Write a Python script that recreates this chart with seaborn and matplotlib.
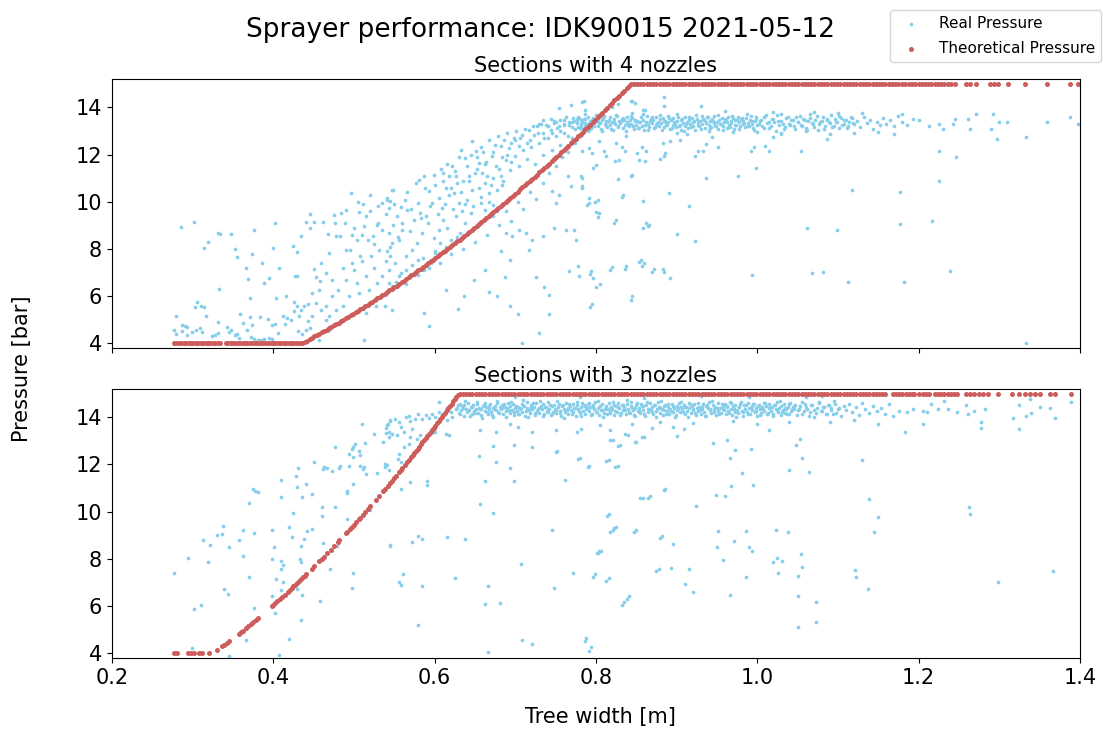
import pandas as pd
import matplotlib
matplotlib.use('Agg')
import matplotlib.pyplot as plt
import seaborn as sns

# values: (tree width [m], pressure [bar])
LOW_P = 4.0
HIGH_P = 15.0

# ---------------- sections with 4 nozzles ----------------
real4_left = [
    (0.286,8.93),(0.302,9.14),(0.319,8.31),(0.314,8.04),(0.331,8.68),(0.334,8.63),(0.347,8.63),(0.352,7.98),(0.355,7.64),(0.376,8.80),
    (0.402,9.08),(0.374,7.79),(0.366,7.19),(0.386,7.39),(0.400,8.04),(0.407,7.21),(0.395,6.75),(0.389,6.56),(0.369,6.73),(0.333,6.32),
    (0.371,5.94),(0.305,5.75),(0.303,5.54),(0.311,5.57),(0.314,5.54),(0.316,5.17),(0.280,5.17),(0.277,4.58),(0.279,4.41),(0.287,4.79),
    (0.290,4.72),(0.293,4.69),(0.287,4.51),(0.293,4.37),(0.299,4.49),(0.304,4.58),(0.309,4.65),(0.312,4.47),(0.324,4.30),(0.328,4.37),
    (0.331,4.44),(0.331,4.89),(0.343,4.69),(0.345,4.47),(0.348,4.58),(0.352,4.35),(0.355,4.38),(0.358,4.24),(0.359,5.24),(0.363,4.86),
    (0.371,5.12),(0.374,4.78),(0.372,4.27),(0.376,4.20),(0.381,4.16),(0.385,4.14),(0.388,4.17),(0.395,4.21),(0.399,4.17),(0.367,4.58),
    (0.384,5.12),(0.394,5.05),(0.398,4.76),(0.402,4.83),(0.404,5.94),(0.412,5.16),(0.416,5.99),(0.415,4.83),(0.406,4.42),(0.417,5.07),
    (0.422,5.00),(0.426,5.36),(0.429,5.57),(0.426,5.77),(0.432,5.14),(0.435,5.43),(0.438,5.57),(0.443,5.65),(0.431,4.52),(0.436,4.41),
    (0.441,4.58),(0.446,4.66),(0.424,8.14),(0.430,7.86),(0.427,6.84),(0.430,6.84),(0.435,8.53),(0.441,9.13),(0.446,9.47),(0.445,8.89),
    (0.451,9.13),(0.450,7.15),(0.453,6.81),(0.458,6.64),(0.457,6.26),(0.462,9.16),(0.468,8.65),(0.475,9.45),(0.476,9.08),(0.478,8.56),
    (0.483,8.53),(0.484,9.52),(0.490,9.66),(0.489,9.10),(0.496,10.37),(0.495,7.97),(0.498,8.59),(0.506,9.55),(0.511,9.90),(0.513,8.96),
    (0.518,8.39),(0.520,9.62),(0.524,8.56),(0.528,9.03),(0.530,9.83),(0.535,9.95),(0.541,10.09),(0.544,9.73),(0.547,10.51),
    (0.448,6.13),(0.453,5.71),(0.459,5.43),(0.465,5.57),(0.469,5.14),(0.473,5.99),(0.480,6.27),(0.486,5.57),(0.490,6.70),(0.494,5.99),
    (0.500,7.12),(0.504,6.56),(0.506,5.43),(0.510,7.47),(0.515,6.84),(0.519,6.27),(0.521,7.69),(0.525,7.19),(0.529,6.56),(0.531,7.97),
    (0.535,6.84),(0.540,7.47),(0.544,6.56),(0.506,6.13),(0.513,4.16),(0.457,4.16),(0.465,5.00),(0.478,5.43),(0.515,5.29),(0.527,5.57),
    (0.469,4.58),(0.448,5.14),(0.443,4.93),(0.498,7.40),(0.486,7.19),(0.473,6.70),(0.465,6.98),(0.459,7.40),(0.490,7.97),(0.469,7.83),
    (0.504,8.39),(0.508,7.69),
]
real4_cloud = [
    (0.548,10.51),(0.545,10.02),(0.541,10.16),(0.558,9.76),(0.563,10.09),(0.553,9.38),(0.549,9.03),(0.543,8.68),(0.547,8.25),(0.556,8.39),
    (0.560,8.82),(0.570,8.75),(0.574,9.24),(0.566,9.66),(0.580,9.95),(0.581,10.91),(0.587,11.08),(0.599,11.12),(0.593,10.44),(0.589,9.38),
    (0.582,9.52),(0.597,9.95),(0.592,9.10),(0.585,8.68),(0.578,8.25),(0.572,7.97),(0.564,7.69),(0.551,7.40),(0.545,7.69),(0.541,7.90),
    (0.556,6.84),(0.547,6.42),(0.544,7.12),(0.564,7.12),(0.574,6.98),(0.580,7.55),(0.587,7.12),(0.595,7.40),(0.601,7.83),(0.599,8.46),
    (0.607,8.25),(0.605,8.82),(0.611,9.24),(0.616,8.89),(0.609,9.73),(0.605,10.16),(0.614,10.58),(0.611,11.22),(0.618,11.08),(0.622,11.50),
    (0.628,10.79),(0.624,10.37),(0.630,9.95),(0.634,9.59),(0.626,9.38),(0.620,8.39),(0.632,8.68),(0.638,9.10),(0.645,9.52),(0.640,10.09),
    (0.647,10.51),(0.643,11.08),(0.638,11.85),(0.633,12.21),(0.647,12.56),(0.651,12.14),(0.655,11.64),(0.659,11.22),(0.663,10.79),(0.667,10.37),
    (0.657,9.95),(0.663,9.66),(0.672,9.88),(0.678,10.51),(0.682,11.08),(0.676,11.50),(0.671,11.92),(0.682,12.35),(0.686,12.63),(0.692,12.28),
    (0.688,11.78),(0.694,11.36),(0.700,11.92),(0.705,12.35),(0.698,12.70),(0.709,12.84),(0.715,12.49),(0.717,13.05),(0.723,12.84),(0.727,13.19),
    (0.734,12.91),(0.738,13.26),(0.744,13.05),(0.748,13.41),(0.754,13.19),(0.761,13.48),(0.767,13.27),(0.771,13.55),(0.777,13.34),(0.783,13.48),
    (0.787,13.27),(0.754,13.97),(0.769,14.11),(0.785,14.25),(0.787,13.90),
    (0.539,5.57),(0.547,5.43),(0.587,5.29),(0.593,4.72),(0.629,5.45),(0.636,5.99),(0.614,6.27),(0.649,6.70),(0.663,7.12),(0.667,6.16),
    (0.678,5.99),(0.687,6.80),(0.693,5.57),(0.704,5.26),(0.708,4.01),(0.729,4.44),(0.742,5.24),(0.726,6.80),(0.736,6.39),(0.742,6.06),
    (0.767,7.08),(0.779,6.87),(0.795,5.68),(0.794,7.05),(0.805,6.53),(0.820,7.23),(0.837,7.26),(0.845,5.99),(0.856,7.55),(0.872,7.15),
    (0.860,7.40),(0.883,7.15),(0.682,7.90),(0.705,8.82),(0.713,8.68),(0.721,8.39),(0.734,8.53),(0.748,8.89),(0.763,8.82),(0.773,8.82),
    (0.775,8.39),(0.717,7.97),(0.694,7.55),(0.688,8.68),(0.696,8.53),(0.746,10.44),(0.750,9.95),(0.754,10.30),(0.765,11.08),(0.769,10.65),
    (0.781,11.08),(0.783,10.65),(0.792,9.95),(0.802,10.09),(0.804,9.52),(0.825,9.21),(0.834,10.30),(0.845,11.15),(0.862,9.10),(0.866,9.03),
    (0.800,11.57),(0.812,11.92),(0.829,11.78),(0.854,11.78),(0.862,12.14),(0.825,12.49),(0.837,12.77),(0.804,12.56),(0.792,12.28),(0.845,13.76),
    (0.858,13.90),(0.845,14.25),(0.883,12.49),(0.885,11.92),
    (0.652,11.9),(0.657,12.3),(0.664,11.7),(0.668,12.6),(0.673,12.1),(0.679,12.8),(0.684,11.9),(0.690,12.9),(0.695,12.5),(0.701,13.0),
    (0.706,12.7),(0.712,13.1),(0.718,12.6),(0.722,13.2),(0.728,12.9),(0.732,13.3),(0.736,12.7),(0.741,13.2),(0.746,12.9),(0.751,13.4),
    (0.756,13.0),(0.760,13.3),(0.765,12.8),(0.770,13.4),(0.774,13.1),(0.778,13.6),(0.782,13.2),(0.786,13.5),(0.790,13.0),(0.794,13.3),
    (0.610,10.9),(0.615,11.6),(0.620,10.6),(0.625,11.3),(0.630,11.9),(0.635,10.9),(0.640,11.5),(0.645,12.0),(0.650,11.2),(0.655,10.6),
    (0.660,12.1),(0.665,11.1),(0.670,10.7),(0.675,12.4),(0.680,11.4),(0.685,10.9),(0.690,12.0),(0.695,11.7),(0.700,12.6),(0.705,11.5),
    (0.710,12.2),(0.715,11.8),(0.720,12.3),(0.725,11.6),(0.730,12.5),(0.735,12.0),(0.740,12.7),(0.745,12.2),(0.750,12.8),(0.755,12.4),
    (0.760,12.9),(0.765,12.3),(0.770,12.7),
    (0.560,9.1),(0.566,10.4),(0.571,9.7),(0.577,10.8),(0.583,9.3),(0.588,10.6),(0.594,9.8),(0.600,10.7),(0.604,9.5),(0.608,11.4),
    (0.613,9.9),(0.618,10.3),(0.623,9.7),(0.627,11.1),(0.633,10.4),(0.638,9.9),(0.643,10.9),(0.648,9.8),(0.653,11.4),(0.658,10.2),
    (0.663,11.6),(0.668,10.0),(0.673,11.0),(0.678,9.6),(0.683,10.7),
    (0.500,8.9),(0.505,10.0),(0.510,8.6),(0.515,9.4),(0.520,10.3),(0.525,8.2),(0.530,9.1),(0.535,8.8),(0.540,9.5),(0.545,8.1),
    (0.550,9.9),(0.555,8.5),
    (0.552,6.6),(0.558,7.0),(0.565,6.5),(0.572,7.3),(0.580,6.9),(0.586,7.6),(0.593,7.2),(0.600,7.9),(0.607,7.4),(0.614,8.1),
    (0.620,7.8),(0.628,8.5),(0.635,8.0),(0.642,8.7),(0.650,8.3),(0.657,9.1),(0.665,8.6),(0.672,9.4),(0.680,9.0),(0.688,9.6),
    (0.695,9.2),(0.703,10.0),(0.710,9.7),(0.718,10.4),(0.726,10.1),(0.734,10.8),(0.742,11.2),(0.750,11.5),(0.758,11.9),(0.766,12.1),
    (0.774,12.5),(0.782,12.8),
]
real4_band = [
    (0.730,13.28),(0.735,13.45),(0.740,13.19),(0.744,13.52),(0.748,13.33),(0.752,13.11),(0.756,13.47),(0.760,13.26),(0.763,13.58),(0.767,13.36),
    (0.770,13.15),(0.773,13.42),
    (0.776,13.39),(0.778,13.18),(0.779,13.56),(0.781,13.29),(0.782,13.46),(0.784,13.07),(0.785,13.50),(0.787,13.35),(0.788,13.23),(0.790,13.61),
    (0.791,13.32),(0.793,13.43),(0.794,13.13),(0.796,13.53),(0.797,13.26),(0.799,13.37),(0.800,13.66),(0.802,13.20),(0.803,13.41),(0.805,13.34),
    (0.806,13.10),(0.808,13.48),(0.809,13.54),(0.811,13.28),(0.812,13.44),(0.814,13.16),(0.815,13.36),(0.817,13.58),(0.818,13.24),(0.820,13.40),
    (0.821,13.02),(0.823,13.49),(0.824,13.31),(0.826,13.62),(0.827,13.21),(0.829,13.42),(0.830,13.33),(0.832,13.51),(0.833,13.14),(0.835,13.45),
    (0.836,13.27),(0.838,13.38),(0.839,13.59),(0.841,13.19),(0.842,13.47),(0.844,13.30),(0.845,13.55),(0.847,13.08),(0.848,13.41),(0.850,13.25),
    (0.851,13.44),(0.853,13.12),(0.854,13.36),(0.856,13.57),(0.857,13.22),(0.859,13.48),(0.860,13.05),(0.862,13.39),(0.863,13.63),(0.865,13.29),
    (0.866,13.17),(0.868,13.52),(0.869,13.34),(0.871,13.45),(0.872,13.11),(0.874,13.60),(0.875,13.26),(0.877,13.40),(0.878,13.20),(0.880,13.49),
    (0.881,13.33),(0.883,13.56),(0.884,13.15),(0.886,13.43),(0.887,13.28),(0.889,13.64),(0.890,13.37),(0.892,13.09),(0.893,13.46),(0.895,13.24),
    (0.896,13.53),(0.898,13.31),(0.899,13.18),(0.901,13.42),(0.902,13.58),(0.904,13.27),(0.905,13.04),(0.907,13.50),(0.908,13.35),(0.910,13.21),
    (0.911,13.61),(0.913,13.39),(0.914,13.13),(0.916,13.47),(0.917,13.30),(0.919,13.55),(0.920,13.23),(0.922,13.41),(0.923,13.06),(0.925,13.52),
    (0.926,13.36),(0.928,13.19),(0.929,13.44),(0.931,13.62),(0.932,13.28),(0.934,13.47),(0.935,13.12),(0.937,13.38),(0.938,13.57),(0.940,13.25),
    (0.941,13.43),(0.943,13.16),(0.944,13.51),(0.946,13.34),(0.947,13.65),(0.949,13.22),(0.950,13.40),(0.952,13.08),(0.953,13.48),(0.955,13.31),
    (0.956,13.56),(0.958,13.19),(0.959,13.37),(0.961,13.45),(0.962,13.14),(0.964,13.59),(0.965,13.27),(0.967,13.42),(0.968,13.33),(0.970,13.53),
    (0.971,13.10),(0.973,13.46),(0.974,13.24),(0.976,13.61),(0.977,13.38),(0.979,13.20),(0.980,13.50),(0.982,13.29),(0.983,13.43),(0.985,13.15),
    (0.986,13.55),(0.988,13.35),(0.989,13.23),(0.991,13.47),(0.992,13.63),(0.994,13.30),(0.995,13.11),(0.997,13.41),(0.998,13.52),(1.000,13.26),
    (1.003,13.44),(1.006,13.21),(1.009,13.58),(1.012,13.33),(1.015,13.12),(1.018,13.49),(1.021,13.38),(1.024,13.66),(1.027,13.25),(1.030,13.42),
    (1.033,13.09),(1.036,13.54),(1.039,13.31),(1.042,13.47),(1.045,13.19),(1.048,13.61),(1.051,13.36),(1.054,13.27),(1.057,13.51),(1.060,13.14),
    (1.063,13.43),(1.066,13.70),(1.069,13.29),(1.072,13.46),(1.075,13.06),(1.078,13.38),(1.081,13.57),(1.084,13.22),(1.087,13.48),(1.090,13.33),
    (1.093,13.16),(1.096,13.52),(1.099,13.40),(1.102,13.62),(1.105,13.24),(1.108,13.45),(1.111,13.11),(1.114,13.37),(1.117,13.55),(1.120,13.28),
    (1.124,13.42),(1.128,13.18),(1.132,13.59),(1.136,13.33),(1.140,13.47),(1.144,13.08),(1.148,13.39),(1.152,13.26),(1.156,13.53),(1.160,13.31),
    (1.165,13.45),(1.170,13.20),(1.175,13.63),(1.180,13.36),(1.186,13.27),
]
real4_band2 = [
    (0.777,13.52),(0.780,13.12),(0.783,13.38),(0.786,13.71),(0.789,13.27),(0.792,13.04),(0.795,13.45),(0.798,13.19),(0.801,13.58),(0.804,13.33),
    (0.807,12.98),(0.810,13.62),(0.813,13.23),(0.816,13.47),(0.819,13.09),(0.822,13.36),(0.825,13.68),(0.828,13.17),(0.831,13.41),(0.834,13.55),
    (0.837,13.01),(0.840,13.29),(0.843,13.64),(0.846,13.21),(0.849,13.48),(0.852,13.14),(0.855,13.39),(0.858,13.73),(0.861,13.26),(0.864,13.03),
    (0.867,13.44),(0.870,13.59),(0.873,13.18),(0.876,13.35),(0.879,13.67),(0.882,13.06),(0.885,13.42),(0.888,13.24),(0.891,13.53),(0.894,13.13),
    (0.897,13.37),(0.900,13.70),(0.903,13.20),(0.906,13.46),(0.909,12.99),(0.912,13.31),(0.915,13.57),(0.918,13.15),(0.921,13.40),(0.924,13.66),
    (0.927,13.25),(0.930,13.07),(0.933,13.50),(0.936,13.34),(0.939,13.61),(0.942,13.11),(0.945,13.43),(0.948,13.22),(0.951,13.69),(0.954,13.30),
    (0.957,13.02),(0.960,13.49),(0.963,13.36),(0.966,13.17),(0.969,13.63),(0.972,13.27),(0.975,13.45),(0.978,13.08),(0.981,13.54),(0.984,13.32),
    (0.987,13.72),(0.990,13.19),(0.993,13.41),(0.996,13.05),(0.999,13.60),(1.002,13.28),(1.005,13.47),(1.008,13.14),(1.011,13.66),(1.014,13.37),
    (1.017,13.23),(1.020,13.52),(1.023,13.00),(1.026,13.43),(1.029,13.70),(1.032,13.31),(1.035,13.16),(1.038,13.58),(1.041,13.26),(1.044,13.48),
    (1.047,13.10),(1.050,13.39),(1.053,13.64),(1.056,13.21),(1.059,13.45),(1.062,13.03),(1.065,13.56),(1.068,13.34),(1.071,13.18),(1.074,13.62),
    (1.077,13.29),(1.080,13.44),(1.083,13.07),(1.086,13.51),(1.089,13.36),(1.092,13.68),(1.095,13.22),(1.098,13.40),(1.101,13.13),(1.104,13.55),
    (1.107,13.31),(1.110,13.47),(1.113,13.20),(1.116,13.60),(1.119,13.35),
]
real4_out = [
    (0.884,14.45),(0.885,14.05),(0.843,14.28),(0.849,14.17),(0.828,14.14),(0.820,14.02),(0.783,14.24),(0.930,14.05),(0.861,13.88),
    (0.783,12.15),(0.795,12.08),(0.797,11.43),(0.810,12.15),(0.832,12.30),(0.836,12.15),(0.824,11.72),(0.851,12.08),(0.861,11.72),(0.857,12.32),
    (0.880,11.79),(0.886,12.08),(0.892,12.58),(0.904,12.61),(0.913,12.87),(0.923,11.94),(0.927,12.15),(0.933,12.15),(0.936,12.44),(0.944,12.73),
    (0.952,12.30),(0.976,11.07),(0.936,11.00),(0.992,12.15),(0.998,11.43),(0.996,12.32),(1.010,12.37),(1.014,12.15),(1.019,12.73),(1.054,12.15),
    (1.029,12.87),(1.087,12.65),(1.226,12.15),(1.246,11.91),(1.226,10.88),(1.297,12.65),(1.333,12.73),
    (0.828,10.97),(0.843,11.07),(0.783,11.00),(0.783,10.57),(0.891,10.35),(0.832,10.19),(0.858,10.04),(0.791,10.14),(0.799,9.99),(0.789,9.85),
    (0.800,9.56),(0.802,9.35),(0.915,9.82),(1.118,10.50),(1.177,10.42),(1.177,9.06),(1.217,9.20),(0.823,9.10),(0.858,8.87),(0.864,8.99),
    (0.901,8.63),(0.923,8.34),(1.062,8.87),(1.099,8.80),
    (0.778,7.26),(0.793,6.94),(0.797,6.76),(0.800,6.40),(0.817,7.12),(0.836,7.14),(0.853,7.43),(0.857,7.29),(0.870,7.01),(0.884,7.04),
    (0.892,6.78),(0.994,6.89),(1.068,6.97),(1.082,7.04),(1.112,6.61),(1.182,6.58),(1.239,7.07),(0.793,5.56),(0.843,5.85),(1.333,4.03),
    (1.193,13.50),(1.201,13.45),(1.213,13.20),(1.226,13.30),(1.230,13.10),(1.243,13.30),(1.245,13.50),(1.261,13.50),(1.264,13.10),(1.271,13.70),
    (1.290,13.10),(1.292,13.70),(1.300,13.40),(1.310,13.40),(1.359,13.40),(1.388,13.60),(1.398,13.30),
    (1.070,13.80),(1.100,13.77),(1.130,13.78),(1.180,13.72),(0.960,13.85),(1.020,13.82),
    (0.970,12.95),(1.030,12.90),(1.060,12.98),(1.090,12.85),(1.120,12.93),(1.150,12.97),(1.170,12.88),(0.900,12.92),(0.940,12.98),(1.000,12.96),
]
theo4_low_x = [
    0.277,0.280,0.283,0.286,0.289,0.292,0.295,0.298,0.301,0.304,0.307,0.310,0.313,0.316,0.319,0.322,0.325,0.328,0.331,0.334,
    0.341,0.344,0.347,0.350,0.353,0.356,0.359,0.362,0.365,0.368,0.371,0.374,0.377,0.380,0.383,0.386,0.389,0.392,0.395,0.398,
    0.401,0.404,0.407,0.410,0.413,0.416,0.419,0.422,0.425,0.428,0.431,0.434,
]
theo4_ramp = [
    (0.436,4.01),(0.439,4.07),(0.442,4.12),(0.445,4.18),(0.448,4.24),(0.451,4.29),(0.454,4.35),(0.457,4.41),(0.460,4.47),(0.463,4.52),
    (0.466,4.58),(0.469,4.64),(0.472,4.70),(0.475,4.76),(0.478,4.82),(0.481,4.88),(0.484,4.94),(0.487,5.00),(0.490,5.07),(0.493,5.13),
    (0.496,5.19),(0.499,5.25),(0.502,5.32),(0.505,5.38),(0.508,5.45),(0.511,5.51),(0.514,5.58),(0.517,5.64),(0.520,5.71),(0.523,5.77),
    (0.526,5.84),(0.529,5.91),(0.532,5.97),(0.535,6.04),(0.538,6.11),(0.541,6.18),(0.544,6.24),(0.547,6.31),(0.550,6.38),(0.553,6.45),
    (0.556,6.52),(0.559,6.59),(0.562,6.66),(0.565,6.74),(0.568,6.81),(0.571,6.88),(0.574,6.95),(0.577,7.03),(0.580,7.10),(0.583,7.17),
    (0.586,7.25),(0.589,7.32),(0.592,7.40),(0.595,7.47),(0.598,7.55),(0.601,7.62),(0.604,7.70),(0.607,7.77),(0.610,7.85),(0.613,7.93),
    (0.616,8.01),(0.619,8.09),(0.622,8.16),(0.625,8.24),(0.628,8.32),(0.631,8.40),(0.634,8.48),(0.637,8.56),(0.640,8.64),(0.643,8.72),
    (0.646,8.81),(0.649,8.89),(0.652,8.97),(0.655,9.05),(0.658,9.14),(0.661,9.22),(0.664,9.30),(0.667,9.39),(0.670,9.47),(0.673,9.56),
    (0.676,9.64),(0.679,9.73),(0.682,9.81),(0.685,9.90),(0.688,9.99),(0.691,10.08),(0.694,10.16),(0.697,10.25),(0.700,10.34),(0.703,10.43),
    (0.706,10.52),(0.709,10.61),(0.712,10.70),(0.715,10.79),(0.718,10.88),(0.721,10.97),(0.724,11.06),(0.727,11.15),(0.730,11.24),(0.733,11.34),
    (0.736,11.43),(0.739,11.52),(0.742,11.62),(0.745,11.71),(0.748,11.81),(0.751,11.90),(0.754,12.00),(0.757,12.09),(0.760,12.19),(0.763,12.28),
    (0.766,12.38),(0.769,12.48),(0.772,12.58),(0.775,12.67),(0.778,12.77),(0.781,12.87),(0.784,12.97),(0.787,13.07),(0.790,13.17),(0.793,13.27),
    (0.796,13.37),(0.799,13.47),(0.802,13.57),(0.805,13.67),(0.808,13.78),(0.811,13.88),(0.814,13.98),(0.817,14.08),(0.820,14.19),(0.823,14.29),
    (0.826,14.40),(0.829,14.50),(0.832,14.61),(0.835,14.71),(0.838,14.82),(0.841,14.92),
]
theo4_high_x = [
    0.843,0.847,0.851,0.855,0.859,0.863,0.867,0.871,0.875,0.879,0.883,0.887,0.891,0.895,0.899,0.903,0.907,0.911,0.915,0.919,
    0.923,0.927,0.931,0.935,0.939,0.943,0.947,0.951,0.955,0.959,0.963,0.967,0.971,0.975,0.979,0.983,0.987,0.991,0.995,0.999,
    1.003,1.007,1.011,1.015,1.019,1.023,1.027,1.031,1.035,1.039,1.043,1.047,1.051,1.055,1.059,1.063,1.067,1.071,1.075,1.079,
    1.083,1.087,1.091,1.095,1.099,1.103,1.107,1.111,1.115,1.119,1.123,1.127,1.131,1.135,1.139,1.143,1.147,1.151,1.155,1.159,
    1.163,1.167,1.171,1.175,1.179,1.183,
    1.188,1.192,1.196,1.200,1.204,1.208,1.212,1.216,1.220,1.224,1.228,1.232,1.236,1.240,1.245,
    1.259,1.264,1.271,1.288,1.293,1.299,1.311,1.332,1.359,1.388,1.398,
]

# ---------------- sections with 3 nozzles ----------------
real3_left = [
    (0.277,7.42),(0.294,8.04),(0.302,5.89),(0.310,6.05),(0.299,4.24),(0.313,8.79),(0.321,8.58),(0.319,7.87),(0.330,9.01),(0.337,9.04),
    (0.338,9.40),(0.345,8.52),(0.339,6.74),(0.344,6.50),(0.345,3.90),(0.358,8.79),(0.363,9.24),(0.362,8.14),(0.370,10.38),(0.375,10.98),
    (0.377,10.86),(0.381,10.83),(0.376,9.08),(0.370,7.22),(0.376,5.92),(0.366,4.55),(0.399,9.24),(0.401,8.52),(0.399,7.98),(0.403,7.16),
    (0.409,7.90),(0.412,7.73),(0.409,7.56),(0.398,6.44),(0.409,6.67),(0.412,7.02),(0.402,5.72),(0.419,4.59),(0.407,3.94),(0.410,11.33),
    (0.410,10.62),(0.428,11.51),(0.431,11.85),(0.429,11.05),(0.441,11.16),(0.436,10.61),(0.450,12.10),(0.448,10.76),(0.425,9.95),(0.419,9.35),
    (0.423,8.93),(0.435,8.56),(0.438,8.84),(0.442,9.20),(0.448,9.28),(0.433,7.98),(0.435,7.87),(0.436,6.49),(0.429,6.73),(0.435,5.41),
    (0.458,6.22),(0.460,9.83),(0.460,10.20),(0.462,8.69),(0.470,7.59),(0.462,11.80),(0.463,11.90),(0.467,11.87),(0.473,11.73),(0.477,10.20),
    (0.477,12.76),(0.482,11.87),(0.483,11.95),(0.479,8.55),(0.492,9.71),(0.491,10.81),(0.492,10.89),(0.494,11.92),(0.494,12.46),(0.497,12.67),
    (0.499,12.76),(0.501,12.87),(0.499,12.30),(0.499,11.18),(0.499,7.40),(0.497,6.78),(0.506,12.56),(0.507,12.42),(0.507,11.94),(0.510,13.70),
    (0.511,11.82),(0.514,12.90),(0.513,11.88),(0.515,11.60),(0.520,10.06),(0.525,13.31),(0.528,11.66),(0.536,12.95),(0.538,12.01),(0.539,11.91),
    (0.540,13.35),(0.540,13.56),(0.542,13.73),(0.545,13.83),(0.543,13.38),(0.545,8.56),
]
real3_mid = [
    (0.541,13.69),(0.545,13.87),(0.551,13.94),(0.558,13.59),(0.556,13.80),(0.564,14.01),(0.568,14.06),(0.570,13.83),(0.572,13.52),(0.576,13.94),
    (0.580,14.16),(0.585,13.94),(0.589,14.11),(0.593,13.97),(0.597,14.16),(0.601,14.01),(0.605,14.23),(0.606,14.65),(0.609,14.08),(0.614,14.30),
    (0.616,13.87),(0.620,14.23),(0.622,14.01),(0.626,14.37),(0.562,13.38),(0.553,13.24),(0.547,13.31),(0.543,13.17),(0.570,13.17),(0.582,13.24),
    (0.578,13.10),(0.568,12.88),(0.562,12.74),(0.556,12.46),(0.555,12.25),(0.558,12.11),(0.541,11.97),(0.543,11.75),(0.570,11.26),(0.558,10.98),
    (0.590,11.29),(0.590,11.12),(0.614,13.31),(0.618,13.24),(0.600,13.38),(0.545,8.58),(0.572,8.72),(0.580,8.97),(0.584,8.86),(0.616,8.92),
    (0.638,8.86),(0.561,7.35),(0.556,7.02),(0.558,6.88),(0.585,6.84),(0.625,7.19),(0.579,5.21),(0.656,10.34),(0.662,11.29),(0.673,9.96),
    (0.655,12.35),(0.673,12.79),(0.676,12.11),(0.694,11.85),(0.699,11.29),(0.698,12.81),(0.721,12.74),(0.746,9.24),(0.750,12.53),(0.752,12.59),
    (0.762,11.36),(0.780,12.28),(0.792,11.92),(0.816,12.18),(0.827,11.94),(0.821,13.05),(0.830,12.81),(0.840,13.27),(0.850,12.95),(0.860,13.17),
    (0.858,10.60),(0.867,10.65),(0.816,9.89),(0.821,9.21),(0.825,9.35),(0.850,9.21),(0.882,8.97),(0.886,10.98),(0.707,7.80),(0.748,6.78),
    (0.772,7.42),(0.799,7.35),(0.816,7.19),(0.804,8.34),(0.806,8.34),(0.878,7.59),(0.666,6.87),(0.663,6.09),(0.681,6.15),(0.835,6.18),
    (0.841,6.43),(0.708,4.55),(0.721,4.41),(0.788,4.66),(0.794,4.27),(0.666,4.07),
    (0.656,13.45),(0.676,13.38),(0.694,13.73),(0.703,13.59),(0.721,13.38),(0.750,13.45),(0.776,13.38),(0.781,13.52),(0.805,13.66),(0.818,13.45),
    (0.845,13.70),(0.870,13.55),
]
real3_band = [
    (0.628,14.39),(0.630,14.18),(0.631,14.56),(0.633,14.29),(0.634,14.46),(0.636,14.07),(0.637,14.50),(0.639,14.35),(0.640,14.23),(0.642,14.61),
    (0.643,14.32),(0.645,14.43),(0.646,14.13),(0.648,14.53),(0.649,14.26),(0.651,14.37),(0.652,14.66),(0.654,14.20),(0.655,14.41),(0.657,14.34),
    (0.658,14.10),(0.660,14.48),(0.661,14.54),(0.663,14.28),(0.664,14.44),(0.666,14.16),(0.667,14.36),(0.669,14.58),(0.670,14.24),(0.672,14.40),
    (0.673,14.02),(0.675,14.49),(0.676,14.31),(0.678,14.62),(0.679,14.21),(0.681,14.42),(0.682,14.33),(0.684,14.51),(0.685,14.14),(0.687,14.45),
    (0.688,14.27),(0.690,14.38),(0.691,14.59),(0.693,14.19),(0.694,14.47),(0.696,14.30),(0.697,14.55),(0.699,14.08),(0.700,14.41),(0.702,14.25),
    (0.703,14.44),(0.705,14.12),(0.706,14.36),(0.708,14.57),(0.709,14.22),(0.711,14.48),(0.712,14.05),(0.714,14.39),(0.715,14.63),(0.717,14.29),
    (0.718,14.17),(0.720,14.52),(0.721,14.34),(0.723,14.45),(0.724,14.11),(0.726,14.60),(0.727,14.26),(0.729,14.40),(0.730,14.20),(0.732,14.49),
    (0.733,14.33),(0.735,14.56),(0.736,14.15),(0.738,14.43),(0.739,14.28),(0.741,14.64),(0.742,14.37),(0.744,14.09),(0.745,14.46),(0.747,14.24),
    (0.748,14.53),(0.750,14.31),(0.751,14.18),(0.753,14.42),(0.754,14.58),(0.756,14.27),(0.757,14.04),(0.759,14.50),(0.760,14.35),(0.762,14.21),
    (0.763,14.61),(0.765,14.39),(0.766,14.13),(0.768,14.47),(0.769,14.30),(0.771,14.55),(0.772,14.23),(0.774,14.41),(0.775,14.06),(0.777,14.52),
    (0.778,14.36),(0.780,14.19),(0.781,14.44),(0.783,14.62),(0.784,14.28),(0.786,14.47),(0.787,14.12),(0.789,14.38),(0.790,14.57),(0.792,14.25),
    (0.793,14.43),(0.795,14.16),(0.796,14.51),(0.798,14.34),(0.799,14.65),(0.801,14.22),(0.802,14.40),(0.804,14.08),(0.805,14.48),(0.807,14.31),
    (0.808,14.56),(0.810,14.19),(0.811,14.37),(0.813,14.45),(0.814,14.14),(0.816,14.59),(0.817,14.27),(0.819,14.42),(0.820,14.33),(0.822,14.53),
    (0.823,14.10),(0.825,14.46),(0.826,14.24),(0.828,14.61),(0.829,14.38),(0.831,14.20),(0.832,14.50),(0.834,14.29),(0.835,14.43),(0.837,14.15),
    (0.838,14.55),(0.840,14.35),(0.841,14.23),(0.843,14.47),(0.844,14.63),(0.846,14.30),(0.847,14.11),(0.849,14.41),(0.850,14.52),(0.852,14.26),
    (0.853,14.39),(0.855,14.18),(0.856,14.56),(0.858,14.29),(0.859,14.46),(0.861,14.07),(0.862,14.50),(0.864,14.35),(0.865,14.23),(0.867,14.61),
    (0.868,14.32),(0.870,14.43),(0.871,14.13),(0.873,14.53),(0.874,14.26),(0.876,14.37),(0.877,14.66),(0.879,14.20),(0.880,14.41),(0.882,14.34),
    (0.883,14.10),(0.885,14.48),(0.886,14.54),(0.888,14.28),(0.889,14.44),(0.891,14.16),(0.892,14.36),(0.894,14.58),(0.895,14.24),(0.897,14.40),
    (0.898,14.02),(0.900,14.49),(0.901,14.31),(0.903,14.62),(0.904,14.21),(0.906,14.42),(0.907,14.33),(0.909,14.51),(0.910,14.14),(0.912,14.45),
    (0.913,14.27),(0.915,14.38),(0.916,14.59),(0.918,14.19),(0.919,14.47),(0.921,14.30),(0.922,14.55),(0.924,14.08),(0.925,14.41),(0.927,14.25),
    (0.928,14.44),(0.930,14.12),(0.931,14.36),(0.933,14.57),(0.934,14.22),(0.936,14.48),(0.937,14.05),(0.939,14.39),(0.940,14.63),(0.942,14.29),
    (0.943,14.17),(0.945,14.52),(0.946,14.34),(0.948,14.45),(0.949,14.11),(0.951,14.60),(0.952,14.26),(0.954,14.40),(0.955,14.20),(0.957,14.49),
    (0.958,14.33),(0.960,14.56),(0.961,14.15),(0.963,14.43),(0.964,14.28),(0.966,14.64),(0.967,14.37),(0.969,14.09),(0.970,14.46),(0.972,14.24),
    (0.973,14.53),(0.975,14.31),(0.976,14.18),(0.978,14.42),(0.979,14.58),(0.981,14.27),(0.982,14.04),(0.984,14.50),(0.985,14.35),(0.987,14.21),
    (0.988,14.61),(0.990,14.39),(0.991,14.13),(0.993,14.47),(0.994,14.30),(0.996,14.55),(0.997,14.23),(0.999,14.41),(1.000,14.06),(1.002,14.52),
    (1.003,14.36),(1.005,14.19),(1.006,14.44),(1.008,14.62),(1.009,14.28),(1.011,14.47),(1.012,14.12),(1.014,14.38),(1.015,14.57),(1.017,14.25),
    (1.018,14.43),(1.020,14.16),(1.021,14.51),(1.023,14.34),(1.024,14.65),(1.026,14.22),(1.027,14.40),(1.029,14.08),(1.030,14.48),(1.032,14.31),
    (1.033,14.56),(1.035,14.19),(1.036,14.37),(1.038,14.45),(1.039,14.14),(1.041,14.59),(1.042,14.27),(1.044,14.42),(1.045,14.33),(1.047,14.53),
    (1.050,14.29),(1.053,14.47),(1.056,14.12),(1.059,14.58),(1.062,14.35),(1.065,14.21),(1.068,14.50),(1.071,14.03),(1.074,14.41),(1.077,14.63),
    (1.080,14.26),(1.083,14.44),(1.086,14.15),(1.089,14.54),(1.092,14.32),(1.095,14.68),(1.098,14.19),(1.101,14.39),(1.104,14.07),(1.107,14.48),
    (1.110,14.30),(1.114,14.56),(1.118,14.22),(1.122,14.42),(1.126,14.11),(1.130,14.60),(1.134,14.34),(1.138,14.18),(1.143,14.49),(1.148,14.27),
    (1.153,14.40),(1.158,14.14),(1.163,14.55),
]
real3_band2 = [
    (0.629,14.52),(0.632,14.12),(0.635,14.38),(0.638,14.71),(0.641,14.27),(0.644,14.04),(0.647,14.45),(0.650,14.19),(0.653,14.58),(0.656,14.33),
    (0.659,13.98),(0.662,14.62),(0.665,14.23),(0.668,14.47),(0.671,14.09),(0.674,14.36),(0.677,14.68),(0.680,14.17),(0.683,14.41),(0.686,14.55),
    (0.689,14.01),(0.692,14.29),(0.695,14.64),(0.698,14.21),(0.701,14.48),(0.704,14.14),(0.707,14.39),(0.710,14.73),(0.713,14.26),(0.716,14.03),
    (0.719,14.44),(0.722,14.59),(0.725,14.18),(0.728,14.35),(0.731,14.67),(0.734,14.06),(0.737,14.42),(0.740,14.24),(0.743,14.53),(0.746,14.13),
    (0.749,14.37),(0.752,14.70),(0.755,14.20),(0.758,14.46),(0.761,13.99),(0.764,14.31),(0.767,14.57),(0.770,14.15),(0.773,14.40),(0.776,14.66),
    (0.779,14.25),(0.782,14.07),(0.785,14.50),(0.788,14.34),(0.791,14.61),(0.794,14.11),(0.797,14.43),(0.800,14.22),(0.803,14.69),(0.806,14.30),
    (0.809,14.02),(0.812,14.49),(0.815,14.36),(0.818,14.17),(0.821,14.63),(0.824,14.27),(0.827,14.45),(0.830,14.08),(0.833,14.54),(0.836,14.32),
    (0.839,14.72),(0.842,14.19),(0.845,14.41),(0.848,14.05),(0.851,14.60),(0.854,14.28),(0.857,14.47),(0.860,14.14),(0.863,14.66),(0.866,14.37),
    (0.869,14.23),(0.872,14.52),(0.875,14.00),(0.878,14.43),(0.881,14.70),(0.884,14.31),(0.887,14.16),(0.890,14.58),(0.893,14.26),(0.896,14.48),
    (0.899,14.10),(0.902,14.39),(0.905,14.64),(0.908,14.21),(0.911,14.45),(0.914,14.03),(0.917,14.56),(0.920,14.34),(0.923,14.18),(0.926,14.62),
    (0.929,14.29),(0.932,14.44),(0.935,14.07),(0.938,14.51),(0.941,14.36),(0.944,14.68),(0.947,14.22),(0.950,14.40),(0.953,14.13),(0.956,14.55),
    (0.959,14.31),(0.962,14.47),(0.965,14.20),(0.968,14.60),(0.971,14.35),(0.974,14.01),(0.977,14.42),(0.980,14.65),(0.983,14.24),(0.986,14.50),
    (0.989,14.12),(0.992,14.38),(0.995,14.57),(0.998,14.27),(1.001,14.46),(1.004,14.09),(1.007,14.33),(1.010,14.61),(1.013,14.19),(1.016,14.43),
    (1.019,14.05),(1.022,14.53),(1.025,14.30),(1.028,14.69),(1.031,14.23),(1.034,14.41),(1.037,14.15),(1.040,14.58),(1.043,14.35),(1.046,14.48),
    (1.049,14.11),(1.052,14.37),(1.055,14.63),(1.058,14.26),(1.061,14.44),(1.064,14.06),(1.067,14.54),(1.070,14.32),(1.073,14.20),(1.076,14.59),
    (1.079,14.28),(1.082,14.45),(1.085,14.12),(1.088,14.51),(1.091,14.39),(1.094,14.16),(1.097,14.56),(1.100,14.33),
]
real3_out = [
    (0.790,11.88),(0.778,12.24),(0.813,12.16),(0.824,11.91),(0.818,13.03),(0.827,12.80),(0.836,13.28),(0.848,12.95),(0.857,13.16),(0.884,10.92),
    (0.855,10.57),(0.864,10.59),(0.895,13.59),(0.901,13.20),(0.909,13.52),(0.924,10.22),(0.945,12.92),(0.963,13.03),(0.972,12.60),(0.966,12.28),
    (0.968,11.08),(0.949,10.72),(0.960,10.66),(0.981,11.65),(0.992,12.67),(0.995,11.15),(1.014,13.45),(1.048,12.84),(1.053,13.10),(1.055,12.27),
    (1.040,11.75),(1.064,11.68),(1.130,12.18),(1.138,10.52),(1.150,9.76),(1.145,9.14),(1.183,13.39),(1.205,13.71),(1.262,10.19),(1.264,9.90),
    (1.277,13.56),(1.325,13.52),(0.814,9.83),(0.818,9.14),(0.823,9.30),(0.847,9.14),(0.880,8.88),(0.896,8.64),(0.952,9.17),(0.950,8.51),
    (0.957,7.97),(0.971,8.77),(0.986,9.17),(0.990,8.51),(0.993,8.35),(1.023,9.22),(1.038,9.14),(1.019,7.87),(1.025,8.03),(1.031,7.92),
    (1.026,7.41),(1.054,8.22),(1.055,7.64),(1.050,7.28),(0.801,8.25),(0.803,8.25),(0.796,7.24),(0.813,7.07),(0.875,7.49),(0.893,7.61),
    (0.915,7.57),(0.986,7.24),(0.911,6.95),(0.921,6.58),(0.966,6.45),(1.050,6.41),(1.073,6.19),(1.073,5.33),(1.050,5.11),(1.121,7.53),
    (1.123,7.24),(1.137,6.71),(0.839,6.31),(0.832,6.06),(1.299,7.01),(1.367,7.49),(0.786,4.50),(0.791,4.11),
    (1.168,14.07),(1.176,14.28),(1.186,14.21),(1.193,14.35),(1.205,14.28),(1.210,14.21),(1.215,14.57),(1.224,14.35),(1.232,14.71),(1.237,14.35),
    (1.248,14.21),(1.259,14.50),(1.261,14.14),(1.269,14.28),(1.277,13.78),(1.282,14.35),(1.317,13.99),(1.325,14.50),(1.333,14.07),(1.340,14.18),
    (1.350,14.43),(1.363,14.38),(1.369,13.99),(1.389,14.64),(1.338,14.78),
    (0.700,14.85),(0.780,14.88),(0.860,14.82),(0.930,14.90),(0.990,14.86),(1.060,14.84),(1.080,14.90),
    (0.880,13.80),(0.920,13.75),(0.970,13.85),(1.000,13.70),(1.040,13.82),(1.090,13.78),(1.120,13.88),(1.150,13.72),
]
theo3_low_x = [0.277,0.281,0.294,0.298,0.302,0.308,0.312,0.320]
theo3_ramp = [
    (0.330,4.12),(0.337,4.29),(0.339,4.34),(0.343,4.45),(0.345,4.50),
    (0.357,4.82),(0.360,4.90),(0.362,4.95),(0.366,5.06),(0.369,5.15),(0.372,5.23),(0.375,5.32),(0.378,5.40),(0.381,5.49),
    (0.398,5.99),(0.400,6.05),(0.402,6.11),(0.405,6.20),(0.408,6.29),(0.411,6.39),(0.414,6.48),(0.418,6.60),(0.421,6.70),(0.423,6.76),
    (0.425,6.83),(0.427,6.89),(0.429,6.96),(0.432,7.05),(0.435,7.15),(0.437,7.22),(0.439,7.28),(0.441,7.35),
    (0.448,7.59),(0.451,7.69),
    (0.457,7.89),(0.460,8.00),(0.463,8.10),(0.467,8.24),(0.471,8.39),(0.475,8.53),(0.480,8.71),(0.482,8.78),
    (0.490,9.08),(0.492,9.15),(0.495,9.26),(0.497,9.34),(0.500,9.45),(0.503,9.56),(0.506,9.68),(0.508,9.75),(0.511,9.87),(0.514,9.99),
    (0.517,10.10),(0.520,10.22),
    (0.527,10.50),(0.531,10.66),(0.536,10.86),(0.539,10.98),(0.542,11.10),(0.545,11.23),(0.547,11.31),(0.550,11.43),(0.552,11.52),(0.556,11.69),
    (0.558,11.77),(0.560,11.85),(0.563,11.98),(0.566,12.11),(0.568,12.20),(0.571,12.32),(0.573,12.41),(0.575,12.50),(0.577,12.58),(0.579,12.67),
    (0.581,12.76),(0.583,12.85),(0.585,12.94),(0.587,13.02),(0.589,13.11),(0.591,13.20),(0.593,13.29),(0.595,13.38),(0.597,13.47),(0.599,13.56),
    (0.601,13.65),(0.603,13.74),(0.605,13.84),(0.607,13.93),(0.609,14.02),(0.611,14.11),(0.613,14.20),(0.615,14.30),(0.617,14.39),(0.619,14.48),
    (0.621,14.58),(0.623,14.67),(0.625,14.77),(0.627,14.86),(0.629,14.96),
]
theo3_high_x = [
    0.631,0.635,0.639,0.643,0.647,0.651,0.655,0.659,0.663,0.667,0.671,0.675,0.679,0.683,0.687,0.691,0.695,0.699,0.703,0.707,
    0.711,0.715,0.719,0.723,0.727,0.731,0.735,0.739,0.743,0.747,0.751,0.755,0.759,0.763,0.767,0.771,0.775,0.779,0.783,0.787,
    0.791,0.795,0.799,0.803,0.807,0.811,0.815,0.819,0.823,0.827,0.831,0.835,0.839,0.843,0.847,0.851,0.855,0.859,0.863,0.867,
    0.871,0.875,0.879,0.883,0.887,0.891,0.895,0.899,0.903,0.907,0.911,0.915,0.919,0.923,0.927,0.931,0.935,0.939,0.943,0.947,
    0.951,0.955,0.959,0.963,0.967,0.971,0.975,0.979,0.983,0.987,0.991,0.995,0.999,1.003,1.007,1.011,1.015,1.019,1.023,1.027,
    1.031,1.035,1.039,1.043,1.047,1.051,1.055,1.059,1.063,1.067,1.071,1.075,1.079,1.083,1.087,1.091,1.095,1.099,1.103,1.107,
    1.111,1.115,1.119,1.123,1.127,1.131,1.135,1.139,1.143,1.147,1.151,1.155,1.159,
    1.168,1.172,1.176,1.180,1.184,1.188,1.192,1.195,1.201,1.205,1.209,1.213,1.220,1.224,1.228,1.232,1.236,1.240,1.244,1.248,
    1.259,1.264,1.269,1.275,1.280,1.286,1.299,1.316,1.324,1.332,1.338,1.344,1.350,1.363,1.369,1.389,
]


def build(real_parts, low_x, ramp, high_x):
    real = [p for part in real_parts for p in part]
    theo = [(x, LOW_P) for x in low_x] + ramp + [(x, HIGH_P) for x in high_x]
    real_df = pd.DataFrame(real, columns=['width', 'pressure'])
    theo_df = pd.DataFrame(theo, columns=['width', 'pressure'])
    return real_df, theo_df


real4, theo4 = build([real4_left, real4_cloud, real4_band, real4_band2, real4_out],
                     theo4_low_x, theo4_ramp, theo4_high_x)
real3, theo3 = build([real3_left, real3_mid, real3_band, real3_band2, real3_out],
                     theo3_low_x, theo3_ramp, theo3_high_x)

fig, axes = plt.subplots(2, 1, sharex=True, figsize=(11.03, 7.29), dpi=100)
fig.subplots_adjust(left=0.1015, right=0.979, top=0.8916, bottom=0.0974, hspace=0.152)

panels = [(real4, theo4, 'Sections with 4 nozzles'), (real3, theo3, 'Sections with 3 nozzles')]
for ax, (real, theo, title) in zip(axes, panels):
    sns.scatterplot(data=real, x='width', y='pressure', color='skyblue', s=7, linewidth=0,
                    label='Real Pressure', legend=False, ax=ax)
    sns.scatterplot(data=theo, x='width', y='pressure', color='indianred', s=13, linewidth=0,
                    label='Theoretical Pressure', legend=False, ax=ax)
    ax.set_title(title, fontsize=15, pad=5)
    ax.set_xlim(0.2, 1.4)
    ax.set_ylim(3.8, 15.2)
    ax.set_yticks([4, 6, 8, 10, 12, 14])
    ax.set_xlabel('')
    ax.set_ylabel('')
    ax.tick_params(labelsize=15)

axes[1].set_xticks([0.2, 0.4, 0.6, 0.8, 1.0, 1.2, 1.4])

fig.suptitle('Sprayer performance: IDK90015 2021-05-12', fontsize=19, x=541 / 1103, y=1 - 30 / 729, va='center')
fig.text(600 / 1103, 1 - 717 / 729, 'Tree width [m]', ha='center', va='center', fontsize=15)
fig.text(22 / 1103, 1 - 369 / 729, 'Pressure [bar]', rotation=90, ha='center', va='center', fontsize=15)

handles, labels = axes[0].get_legend_handles_labels()
fig.legend(handles, labels, loc='upper left', bbox_to_anchor=(890 / 1103, 1 - 10 / 729),
           borderaxespad=0, labelspacing=0.65, fontsize=11)

fig.savefig('out.png', dpi=100)
